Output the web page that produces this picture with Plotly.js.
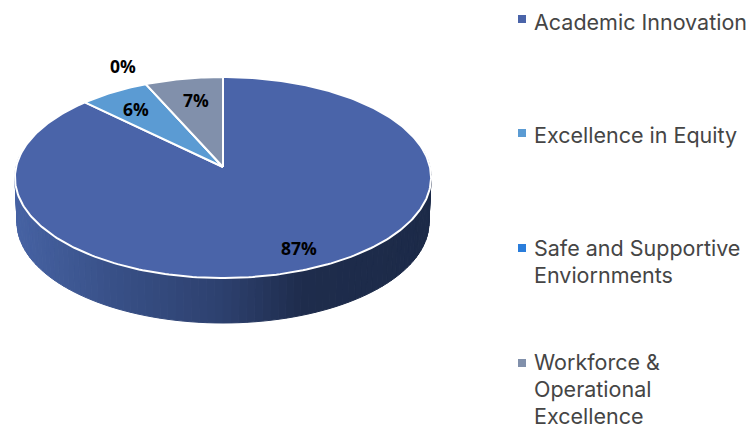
<!DOCTYPE html>
<html>
<head>
<meta charset="utf-8">
<script src="https://cdn.plot.ly/plotly-3.0.1.min.js"></script>
<style>html,body{margin:0;padding:0;background:#fff}#chart{width:752px;height:428px}</style>
</head>
<body>
<div id="chart"></div>
<script>
// Data
var categories = ['Academic Innovation', 'Excellence in Equity', 'Safe and Supportive<br>Enviornments', 'Workforce &<br>Operational<br>Excellence'];
var values = [87.3, 6.0, 0, 6.7];
var percentLabels = ['87%', '6%', '0%', '7%'];
var sliceColors = ['#4a64a9', '#5b9bd3', '#2a7ddb', '#8190ab'];

// Placement (axis units are pixels around the pie centre)
var labelX = [76, -87, -100, -27];
var labelY = [81, -58, -101, -67];
var legendSquareY = [-148, -34, 81, 196];
var legendTextY = [-145, -32, 81, 195];
var legendLineStep = 27;
var legendSquareX = 299;
var legendTextX = 309;

// Perspective disc
var R = 206.9, Ry = 99.4, K = 0.1045, DEPTH = 45, BOTTOM_SCALE = 0.99;
function proj(deg, scale, dy) {
  var a = deg * Math.PI / 180, u = Math.sin(a), v = -Math.cos(a), w = 1 - K * v;
  return [R * u / w * scale, Ry * v / w + dy];
}
var traces = [];

// Side wall, shaded by horizontal position
var sideStops = [[-208, [70, 98, 163]], [-110, [56, 80, 135]], [0, [45, 64, 110]], [80, [30, 44, 76]], [208, [28, 42, 72]]];
function sideColor(x) {
  for (var i = 1; i < sideStops.length; i++) {
    if (x <= sideStops[i][0]) {
      var a = sideStops[i - 1], b = sideStops[i], t = (x - a[0]) / (b[0] - a[0]);
      return 'rgb(' + [0, 1, 2].map(function (c) { return Math.round(a[1][c] + t * (b[1][c] - a[1][c])); }).join(',') + ')';
    }
  }
  return 'rgb(28,42,72)';
}
for (var d = 80; d < 280; d += 2) {
  var p = [proj(d, 1, 0), proj(d + 2, 1, 0), proj(d + 2, BOTTOM_SCALE, DEPTH), proj(d, BOTTOM_SCALE, DEPTH)];
  var col = sideColor((p[0][0] + p[1][0]) / 2);
  traces.push({
    x: p.map(function (q) { return q[0]; }).concat(p[0][0]),
    y: p.map(function (q) { return q[1]; }).concat(p[0][1]),
    mode: 'lines', fill: 'toself', fillcolor: col, line: { color: col, width: 1 },
    hoverinfo: 'skip', showlegend: false
  });
}

// Top face slices, clockwise from 12 o'clock
var total = values.reduce(function (s, v) { return s + v; }, 0), start = 0;
values.forEach(function (v, i) {
  var sweep = v / total * 360, xs = [0], ys = [0], n = Math.max(1, Math.ceil(sweep));
  for (var j = 0; j <= n; j++) {
    var q = proj(start + sweep * j / n, 1, 0);
    xs.push(q[0]); ys.push(q[1]);
  }
  xs.push(0); ys.push(0);
  traces.push({
    x: xs, y: ys, mode: 'lines', fill: 'toself', fillcolor: sliceColors[i],
    line: { color: '#ffffff', width: 2 }, name: categories[i].replace(/<br>/g, ' '), showlegend: false, hoverinfo: 'name'
  });
  start += sweep;
});

// Legend squares
traces.push({
  x: categories.map(function () { return legendSquareX; }), y: legendSquareY,
  mode: 'markers', marker: { symbol: 'square', size: 8, color: sliceColors }, hoverinfo: 'skip', showlegend: false
});

var annotations = [];
percentLabels.forEach(function (t, i) {
  annotations.push({
    x: labelX[i], y: labelY[i], text: t, showarrow: false, xanchor: 'center', yanchor: 'middle',
    font: { family: 'Open Sans', size: 17.5, color: '#000', weight: 700 }
  });
});
categories.forEach(function (t, i) {
  t.split('<br>').forEach(function (line, k) {
    annotations.push({
      x: legendTextX, y: legendTextY[i] + k * legendLineStep, text: line, showarrow: false,
      xanchor: 'left', yanchor: 'middle', align: 'left',
      font: { family: 'Inter', size: 21.5, color: '#454545' }
    });
  });
});

var hidden = { visible: false, fixedrange: true };
Plotly.newPlot('chart', traces, {
  width: 752, height: 428, margin: { l: 0, r: 0, t: 0, b: 0 },
  paper_bgcolor: '#fff', plot_bgcolor: '#fff', showlegend: false,
  xaxis: Object.assign({ range: [-223, 529] }, hidden),
  yaxis: Object.assign({ range: [261, -167] }, hidden),
  annotations: annotations
}, { displayModeBar: false, staticPlot: true });
</script>
</body>
</html>
